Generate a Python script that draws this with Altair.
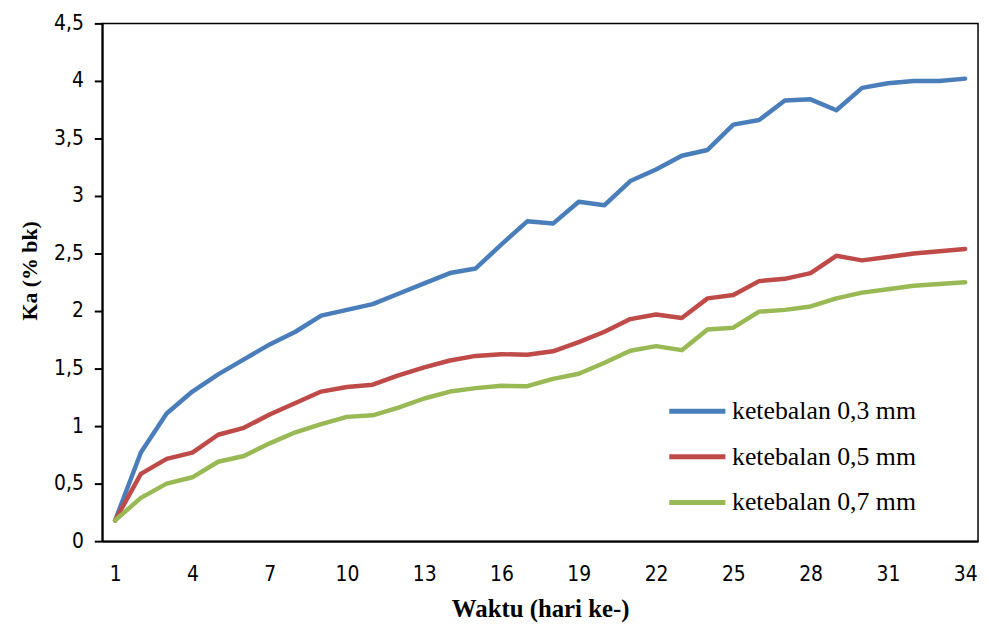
import altair as alt
import pandas as pd

days = list(range(1, 35))
series_names = ["ketebalan 0,3 mm", "ketebalan 0,5 mm", "ketebalan 0,7 mm"]
ka_03 = [0.18, 0.77, 1.11, 1.30, 1.45, 1.58, 1.71, 1.82, 1.96, 2.01,
         2.06, 2.15, 2.24, 2.33, 2.37, 2.58, 2.78, 2.76, 2.95, 2.92,
         3.13, 3.23, 3.35, 3.40, 3.62, 3.66, 3.83, 3.84, 3.745, 3.94,
         3.98, 4.00, 4.00, 4.02]
ka_05 = [0.18, 0.585, 0.715, 0.77, 0.925, 0.985, 1.10, 1.20, 1.30, 1.34,
         1.36, 1.44, 1.51, 1.57, 1.61, 1.625, 1.62, 1.65, 1.73, 1.82,
         1.93, 1.97, 1.94, 2.11, 2.14, 2.26, 2.28, 2.33, 2.48, 2.44,
         2.47, 2.50, 2.52, 2.54]
ka_07 = [0.18, 0.376, 0.50, 0.555, 0.69, 0.74, 0.85, 0.946, 1.017, 1.08,
         1.094, 1.16, 1.24, 1.30, 1.33, 1.35, 1.347, 1.41, 1.455, 1.55,
         1.655, 1.695, 1.66, 1.84, 1.855, 1.995, 2.01, 2.04, 2.11, 2.16,
         2.19, 2.22, 2.235, 2.25]
colors = ["#4a7ebb", "#be4b48", "#98b954"]
x_ticks = list(range(1, 35, 3))
y_ticks = [0, 0.5, 1, 1.5, 2, 2.5, 3, 3.5, 4, 4.5]

rows = []
for name, vals in zip(series_names, [ka_03, ka_05, ka_07]):
    for d, v in zip(days, vals):
        rows.append({"day": d, "ka": v, "series": name})
df = pd.DataFrame(rows)

tick_font = "Liberation Sans Narrow, DejaVu Sans Condensed, Roboto Condensed, sans-serif"
serif = "Liberation Serif, Times New Roman, serif"

chart = alt.Chart(df).mark_line(strokeWidth=4.5, strokeJoin="round", strokeCap="round").encode(
    x=alt.X("day:Q",
            scale=alt.Scale(domain=[0.5, 34.5], nice=False, zero=False),
            axis=alt.Axis(values=x_ticks, ticks=False, grid=False,
                          domainColor="black", domainWidth=2,
                          labelFont=tick_font, labelFontSize=21, labelColor="black",
                          labelPadding=23,
                          title="Waktu (hari ke-)", titleFont=serif, titleFontSize=25,
                          titleFontWeight="bold", titleColor="black", titlePadding=12)),
    y=alt.Y("ka:Q",
            scale=alt.Scale(domain=[0, 4.5], nice=False),
            axis=alt.Axis(values=y_ticks, grid=False, tickColor="black", tickSize=8,
                          tickWidth=2, domainColor="black", domainWidth=2,
                          labelFont=tick_font, labelFontSize=21, labelColor="black",
                          labelPadding=11,
                          labelExpr="replace(toString(datum.value), '.', ',')",
                          title="Ka (% bk)", titleFont=serif, titleFontSize=22,
                          titleFontWeight="bold", titleColor="black", titlePadding=12,
                          titleY=249)),
    color=alt.Color("series:N",
                    scale=alt.Scale(domain=series_names, range=colors),
                    legend=alt.Legend(title=None, orient="none", legendX=569, legendY=360,
                                      symbolType="stroke", symbolSize=3200,
                                      symbolStrokeWidth=5, labelLimit=400,
                                      labelFont=serif, labelFontSize=26, labelColor="black",
                                      labelOffset=4, rowPadding=2)),
).properties(
    width=883, height=522,
    padding={"left": 95, "top": 13, "right": 4, "bottom": 80},
    autosize=alt.AutoSizeParams(type="none"),
).configure_view(stroke="black", strokeWidth=1.5)

chart.save("out.html", embed_options={"renderer": "svg", "actions": False})
